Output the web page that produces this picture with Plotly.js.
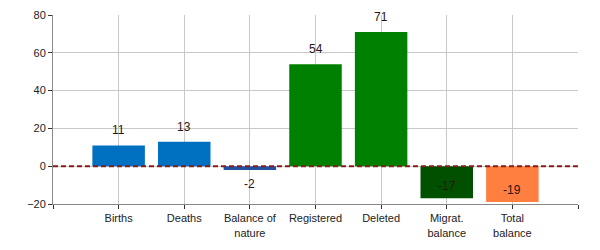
<!DOCTYPE html>
<html><head><meta charset="utf-8">
<script src="https://cdn.plot.ly/plotly-3.0.1.min.js"></script>
<style>html,body{margin:0;padding:0;background:#fff}#chart{width:600px;height:250px}</style>
</head><body><div id="chart"></div>
<script>
const categories = ["Births", "Deaths", "Balance of<br>nature", "Registered", "Deleted", "Migrat.<br>balance", "Total<br>balance"];
const values = [11, 13, -2, 54, 71, -17, -19];
const colors = ["#0070C0", "#0070C0", "#2151A1", "#008000", "#008000", "#005000", "#FF7F41"];
const yTicks = [-20, 0, 20, 40, 60, 80];

const xs = categories.map((c, i) => i + 1);
const trace = {
  type: "bar", x: xs, y: values, width: 0.8,
  marker: {color: colors, line: {width: 0}},
  hoverinfo: "skip"
};
const annotations = values.map((v, i) => ({
  x: xs[i], y: v, xref: "x", yref: "y", text: String(v), showarrow: false,
  yshift: v >= 0 ? 15 : (v > -10 ? -14 : 12),
  font: {family: "Liberation Sans, Arial, sans-serif", size: 12, color: "#2a1414"}
}));
const layout = {
  width: 600, height: 250,
  margin: {l: 53, r: 22, t: 15, b: 46},
  paper_bgcolor: "#fff", plot_bgcolor: "#fff",
  showlegend: false,
  font: {family: "Liberation Sans, Arial, sans-serif", size: 11, color: "#222"},
  xaxis: {
    range: [0, 8], tickmode: "array",
    tickvals: [0].concat(xs, [8]), ticktext: [""].concat(categories, [""]),
    showgrid: true, gridcolor: "#c8c8c8", gridwidth: 1,
    zeroline: false, showline: true, linecolor: "#888", linewidth: 1,
    ticks: "outside", ticklen: 4, tickcolor: "#333", fixedrange: true,
    tickfont: {size: 11, color: "#222"}
  },
  yaxis: {
    range: [-20, 80], tickmode: "array", tickvals: yTicks,
    showgrid: true, gridcolor: "#c8c8c8", gridwidth: 1,
    zeroline: false, showline: true, linecolor: "#888", linewidth: 1,
    ticks: "outside", ticklen: 4, tickcolor: "#333", fixedrange: true,
    tickfont: {size: 11, color: "#222"}
  },
  shapes: [{
    type: "line", xref: "paper", yref: "y", x0: 0, x1: 1, y0: 0, y1: 0,
    layer: "above", line: {color: "#8B1A1A", width: 2, dash: "5px,3px"}
  }],
  annotations: annotations
};
Plotly.newPlot("chart", [trace], layout, {displayModeBar: false, staticPlot: true});
</script></body></html>
